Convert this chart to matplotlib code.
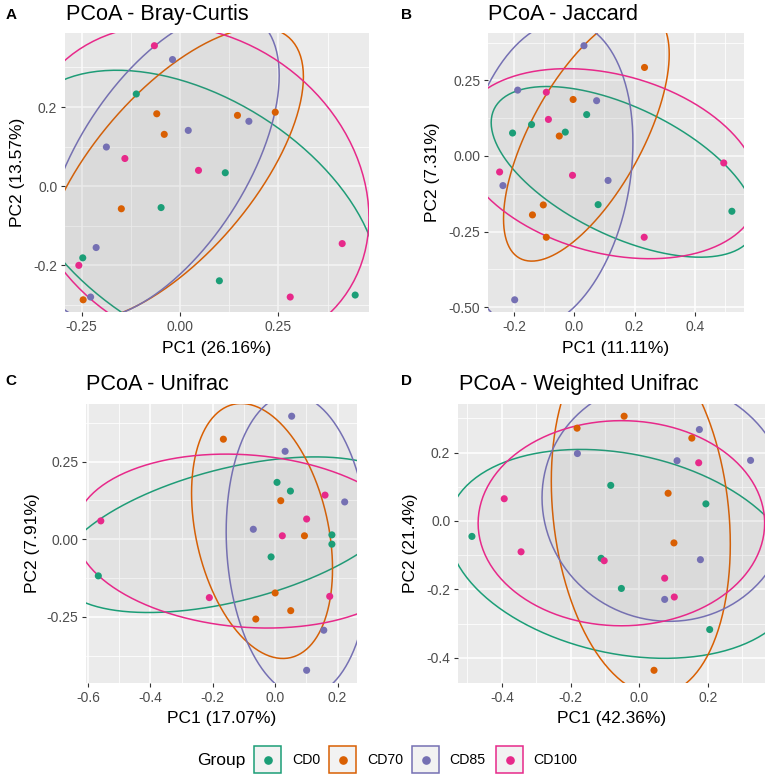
import numpy as np
import matplotlib
matplotlib.use("Agg")
import matplotlib.pyplot as plt
from matplotlib.patches import Polygon, Rectangle
from matplotlib.lines import Line2D

plt.rcParams['font.family'] = ['Liberation Sans', 'DejaVu Sans']
plt.rcParams['axes.unicode_minus'] = False

groups = ["CD0", "CD70", "CD85", "CD100"]
colors = {"CD0": "#1B9E77", "CD70": "#D95F02", "CD85": "#7570B3", "CD100": "#E7298A"}

# ---- Panel A: Bray-Curtis ----
bc_x = {"CD0":   [-0.111, 0.115, -0.048, -0.247, 0.100, 0.445],
        "CD70":  [-0.059, -0.040, 0.146, 0.242, -0.149, -0.246],
        "CD85":  [-0.019, 0.021, 0.175, -0.187, -0.213, -0.227],
        "CD100": [-0.065, -0.140, 0.047, -0.257, 0.412, 0.280]}
bc_y = {"CD0":   [0.233, 0.034, -0.054, -0.181, -0.239, -0.275],
        "CD70":  [0.183, 0.131, 0.179, 0.187, -0.057, -0.287],
        "CD85":  [0.320, 0.141, 0.164, 0.099, -0.155, -0.280],
        "CD100": [0.355, 0.070, 0.040, -0.200, -0.145, -0.280]}
# group ellipses: centre x, centre y, x half-extent, y half-extent, correlation
bc_ell = {"CD0":   (0.042, -0.080, 0.464, 0.373, -0.438),
          "CD70":  (-0.0205, 0.0304, 0.334, 0.3705, 0.664),
          "CD85":  (-0.047, 0.053, 0.299, 0.388, 0.584),
          "CD100": (0.039, -0.006, 0.441, 0.413, -0.18)}

# ---- Panel B: Jaccard ----
ja_x = {"CD0":   [-0.205, -0.142, -0.030, 0.041, 0.079, 0.523],
        "CD70":  [0.233, -0.004, -0.050, -0.103, -0.139, -0.093],
        "CD85":  [0.032, -0.188, 0.074, -0.237, 0.112, -0.198],
        "CD100": [-0.093, -0.086, -0.248, -0.006, 0.496, 0.232]}
ja_y = {"CD0":   [0.076, 0.104, 0.079, 0.137, -0.161, -0.183],
        "CD70":  [0.293, 0.187, 0.066, -0.162, -0.195, -0.269],
        "CD85":  [0.365, 0.218, 0.183, -0.098, -0.081, -0.476],
        "CD100": [0.211, 0.121, -0.053, -0.064, -0.023, -0.269]}
ja_ell = {"CD0":   (0.1635, -0.0525, 0.4395, 0.2825, -0.577),
          "CD70":  (0.040, 0.0645, 0.275, 0.4125, 0.66),
          "CD85":  (-0.0935, -0.0634, 0.288, 0.51, 0.212),
          "CD100": (0.1135, -0.0255, 0.50, 0.3145, -0.275)}

# ---- Panel C: Unifrac ----
un_x = {"CD0":   [-0.567, 0.006, 0.049, -0.013, 0.182, 0.182],
        "CD70":  [-0.166, 0.018, 0.094, 0.000, 0.050, -0.062],
        "CD85":  [0.053, 0.032, -0.070, 0.223, 0.156, 0.101],
        "CD100": [-0.559, -0.211, 0.023, 0.101, 0.160, 0.175]}
un_y = {"CD0":   [-0.118, 0.183, 0.155, -0.057, 0.014, -0.016],
        "CD70":  [0.322, 0.124, 0.011, -0.173, -0.230, -0.257],
        "CD85":  [0.396, 0.283, 0.032, 0.120, -0.293, -0.422],
        "CD100": [0.059, -0.188, 0.011, 0.065, 0.142, -0.184]}
un_ell = {"CD0":   (-0.139, 0.0145, 0.555, 0.2505, 0.482),
          "CD70":  (-0.042, 0.0265, 0.226, 0.4105, -0.296),
          "CD85":  (0.073, -0.02, 0.23, 0.486, -0.09),
          "CD100": (-0.091, -0.006, 0.551, 0.28, -0.12)}

# ---- Panel D: Weighted Unifrac ----
wu_x = {"CD0":   [-0.487, -0.083, -0.111, -0.052, 0.194, 0.205],
        "CD70":  [-0.181, -0.044, 0.153, 0.084, 0.101, 0.043],
        "CD85":  [-0.180, 0.175, 0.110, 0.324, 0.178, 0.074],
        "CD100": [-0.393, -0.344, -0.102, 0.074, 0.102, 0.173]}
wu_y = {"CD0":   [-0.045, 0.104, -0.109, -0.197, 0.050, -0.317],
        "CD70":  [0.271, 0.306, 0.242, 0.081, -0.064, -0.436],
        "CD85":  [0.197, 0.267, 0.176, 0.177, -0.113, -0.229],
        "CD100": [0.065, -0.090, -0.116, -0.167, -0.222, 0.170]}
wu_ell = {"CD0":   (-0.0484, -0.096, 0.509, 0.305, -0.24),
          "CD70":  (0.0045, 0.024, 0.2605, 0.5315, -0.173),
          "CD85":  (0.077, 0.0575, 0.36, 0.3505, -0.03),
          "CD100": (-0.052, -0.0065, 0.417, 0.2995, 0.0)}

titles = ["PCoA - Bray-Curtis", "PCoA - Jaccard", "PCoA - Unifrac", "PCoA - Weighted Unifrac"]
letters = ["A", "B", "C", "D"]
xlabels = ["PC1 (26.16%)", "PC1 (11.11%)", "PC1 (17.07%)", "PC1 (42.36%)"]
ylabels = ["PC2 (13.57%)", "PC2 (7.31%)", "PC2 (7.91%)", "PC2 (21.4%)"]
xticks = [[-0.25, 0.0, 0.25], [-0.2, 0.0, 0.2, 0.4], [-0.6, -0.4, -0.2, 0.0, 0.2], [-0.4, -0.2, 0.0, 0.2]]
xticklabels = [["-0.25", "0.00", "0.25"], ["-0.2", "0.0", "0.2", "0.4"],
               ["-0.6", "-0.4", "-0.2", "0.0", "0.2"], ["-0.4", "-0.2", "0.0", "0.2"]]
yticks = [[-0.2, 0.0, 0.2], [-0.5, -0.25, 0.0, 0.25], [-0.25, 0.0, 0.25], [-0.4, -0.2, 0.0, 0.2]]
yticklabels = [["-0.2", "0.0", "0.2"], ["-0.50", "-0.25", "0.00", "0.25"],
               ["-0.25", "0.00", "0.25"], ["-0.4", "-0.2", "0.0", "0.2"]]
datasets = [(bc_x, bc_y, bc_ell), (ja_x, ja_y, ja_ell), (un_x, un_y, un_ell), (wu_x, wu_y, wu_ell)]


def ellipse_pts(params, segments=120):
    cx, cy, sx, sy, r = params
    t = np.linspace(0, 2 * np.pi, segments + 1)
    x = cx + sx * np.cos(t)
    y = cy + sy * (r * np.cos(t) + np.sqrt(1 - r * r) * np.sin(t))
    return np.column_stack([x, y])


W, H = 768, 779
fig = plt.figure(figsize=(W / 100, H / 100), dpi=100)

boxes = [(65, 33, 369, 312.5), (488, 33, 743.5, 312.5),
         (86, 403.5, 357, 683), (458, 403.5, 764.5, 683)]
title_pos = [(66, 20), (488, 20), (86, 390), (459, 390)]
letter_pos = [(6, 19), (401, 19), (5, 385), (401, 385)]
ylab_x = [18, 433, 32, 411]


def fx(px):
    return px / W


def fy(py):
    return 1 - py / H


for i, (dx, dy, ell) in enumerate(datasets):
    l, t, r, b = boxes[i]
    ax = fig.add_axes([fx(l), fy(b), (r - l) / W, (b - t) / H])
    ax.set_facecolor("#EBEBEB")
    allx = np.concatenate([dx[g] for g in groups])
    ally = np.concatenate([dy[g] for g in groups])
    xr = allx.max() - allx.min()
    yr = ally.max() - ally.min()
    xlim = (allx.min() - 0.05 * xr, allx.max() + 0.05 * xr)
    ylim = (ally.min() - 0.05 * yr, ally.max() + 0.05 * yr)

    xt = xticks[i]
    yt = yticks[i]
    xs = xt[1] - xt[0]
    ys = yt[1] - yt[0]
    xminor = np.arange(xt[0] - xs / 2, xlim[1], xs)
    yminor = np.arange(yt[0] - ys / 2, ylim[1], ys)
    for v in xminor:
        if xlim[0] < v < xlim[1]:
            ax.axvline(v, color="white", lw=0.55, zorder=0.5)
    for v in yminor:
        if ylim[0] < v < ylim[1]:
            ax.axhline(v, color="white", lw=0.55, zorder=0.5)
    for v in xt:
        ax.axvline(v, color="white", lw=1.1, zorder=0.6)
    for v in yt:
        ax.axhline(v, color="white", lw=1.1, zorder=0.6)

    for g in groups:
        pts = ellipse_pts(ell[g])
        ax.add_patch(Polygon(pts, closed=True, facecolor=(0.5, 0.5, 0.5, 0.04),
                             edgecolor=colors[g], lw=1.1, zorder=1))
    for g in groups:
        ax.scatter(dx[g], dy[g], s=26, color=colors[g], edgecolors="none", zorder=3)

    ax.set_xlim(xlim)
    ax.set_ylim(ylim)
    ax.set_xticks(xt)
    ax.set_xticklabels(xticklabels[i])
    ax.set_yticks(yt)
    ax.set_yticklabels(yticklabels[i])
    ax.tick_params(length=3, width=0.8, color="#333333", labelcolor="#4D4D4D",
                   labelsize=10, pad=2.5)
    for s in ax.spines.values():
        s.set_visible(False)

    fig.text(fx(title_pos[i][0]), fy(title_pos[i][1]), titles[i], fontsize=15.6,
             ha="left", va="baseline")
    fig.text(fx(letter_pos[i][0]), fy(letter_pos[i][1]), letters[i], fontsize=11,
             fontweight="bold", ha="left", va="baseline")
    fig.text(fx((l + r) / 2), fy(b + 40.5), xlabels[i], fontsize=12.5,
             ha="center", va="baseline")
    fig.text(fx(ylab_x[i]), fy((t + b) / 2), ylabels[i], fontsize=12.5,
             ha="center", va="center", rotation=90)

fig.text(fx(197), fy(760), "Group", fontsize=12.5, ha="left", va="center")
key_left = [254, 329, 412, 496]
lab_left = [292, 367, 449, 533]
for g, kl, ll in zip(groups, key_left, lab_left):
    fig.patches.append(Rectangle((fx(kl), fy(773)), 27 / W, 27 / H, transform=fig.transFigure,
                                 facecolor="#F2F2F2", edgecolor=colors[g], lw=1.1))
    fig.add_artist(Line2D([fx(kl + 13.5)], [fy(759.5)], marker="o",
                          markersize=5.2, color=colors[g], lw=0,
                          transform=fig.transFigure))
    fig.text(fx(ll), fy(760), g, fontsize=10.2, ha="left", va="center")

fig.savefig("out.png", dpi=100)
